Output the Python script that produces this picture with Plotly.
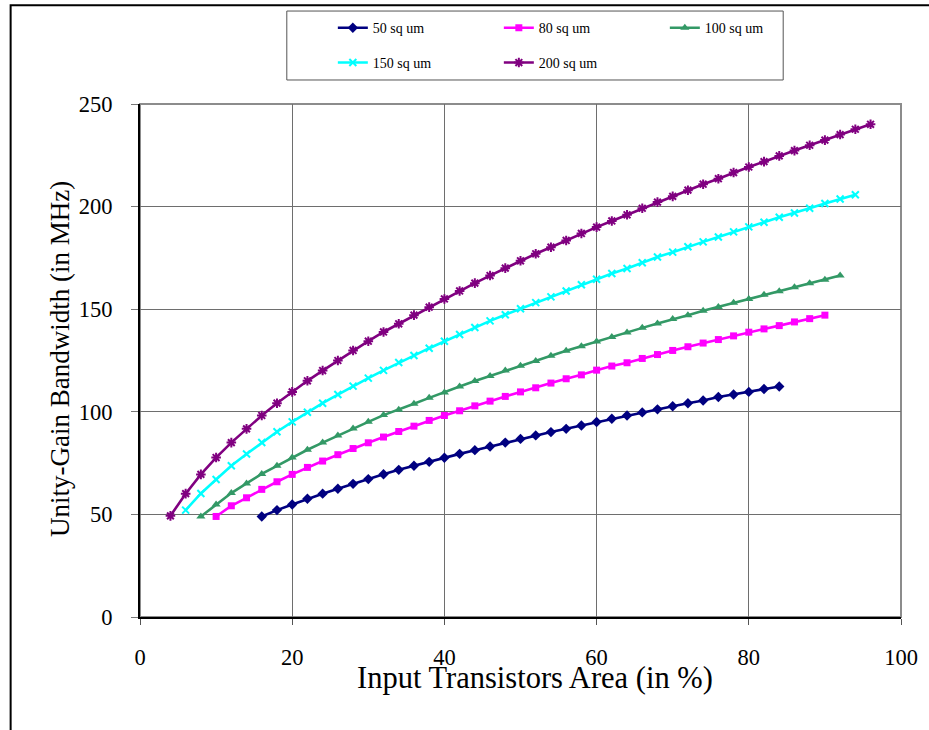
import plotly.graph_objects as go

# Input transistor area (%) at each computed point, per capacitor size
x_50 = [16, 18, 20, 22, 24, 26, 28, 30, 32, 34, 36, 38, 40, 42, 44, 46, 48, 50,
        52, 54, 56, 58, 60, 62, 64, 66, 68, 70, 72, 74, 76, 78, 80, 82, 84]
x_80 = [10, 12, 14, 16, 18, 20, 22, 24, 26, 28, 30, 32, 34, 36, 38, 40, 42, 44, 46,
        48, 50, 52, 54, 56, 58, 60, 62, 64, 66, 68, 70, 72, 74, 76, 78, 80, 82, 84,
        86, 88, 90]
x_100 = [8, 10, 12, 14, 16, 18, 20, 22, 24, 26, 28, 30, 32, 34, 36, 38, 40, 42, 44,
         46, 48, 50, 52, 54, 56, 58, 60, 62, 64, 66, 68, 70, 72, 74, 76, 78, 80, 82,
         84, 86, 88, 90, 92]
x_150 = [6, 8, 10, 12, 14, 16, 18, 20, 22, 24, 26, 28, 30, 32, 34, 36, 38, 40, 42,
         44, 46, 48, 50, 52, 54, 56, 58, 60, 62, 64, 66, 68, 70, 72, 74, 76, 78, 80,
         82, 84, 86, 88, 90, 92, 94]
x_200 = [4, 6, 8, 10, 12, 14, 16, 18, 20, 22, 24, 26, 28, 30, 32, 34, 36, 38, 40,
         42, 44, 46, 48, 50, 52, 54, 56, 58, 60, 62, 64, 66, 68, 70, 72, 74, 76, 78,
         80, 82, 84, 86, 88, 90, 92, 94, 96]

# Unity-gain bandwidth (MHz)
ugb_50 = [49.0, 52.1, 54.8, 57.6, 60.1, 62.5, 64.9, 67.2, 69.6, 71.7, 73.7, 75.6,
          77.6, 79.5, 81.3, 83.1, 85.0, 86.8, 88.5, 90.1, 91.7, 93.3, 95.0, 96.6,
          98.2, 99.7, 101.2, 102.7, 104.2, 105.5, 107.2, 108.4, 109.7, 111.1, 112.3]
ugb_80 = [49.0, 54.2, 58.1, 62.2, 65.9, 69.5, 72.9, 76.0, 79.1, 82.1, 84.9, 87.7,
          90.4, 93.0, 95.8, 98.2, 100.5, 102.9, 105.2, 107.5, 109.7, 111.7, 114.0,
          116.1, 118.0, 120.3, 122.3, 123.9, 126.0, 127.9, 129.9, 131.7, 133.5,
          135.2, 137.0, 138.8, 140.4, 142.0, 143.8, 145.4, 147.1]
ugb_100 = [49.0, 54.8, 60.4, 65.1, 69.7, 73.7, 77.7, 81.5, 85.0, 88.5, 91.9, 95.1,
           98.4, 101.0, 103.9, 106.8, 109.4, 112.3, 115.0, 117.5, 120.1, 122.4,
           124.8, 127.3, 129.7, 132.0, 134.2, 136.5, 138.6, 140.9, 143.0, 145.2,
           147.1, 149.2, 151.1, 153.1, 155.0, 157.0, 158.8, 160.7, 162.7, 164.4, 166.4]
ugb_150 = [52.1, 60.2, 67.0, 73.7, 79.4, 85.0, 90.3, 95.1, 99.8, 104.2, 108.4, 112.5,
           116.4, 120.2, 124.0, 127.4, 131.0, 134.4, 137.7, 141.1, 144.3, 147.3,
           150.2, 153.2, 156.0, 158.9, 161.9, 164.6, 167.4, 169.8, 172.6, 175.4,
           177.8, 180.4, 182.8, 185.2, 187.7, 190.1, 192.4, 194.8, 196.9, 199.2,
           201.5, 203.7, 205.8]
ugb_200 = [49.3, 60.1, 69.5, 77.7, 85.0, 91.7, 98.2, 104.2, 109.7, 115.1, 120.1, 125.0,
           129.9, 134.4, 138.9, 142.9, 147.1, 151.0, 155.0, 158.9, 162.7, 166.4, 170.0,
           173.6, 177.0, 180.2, 183.5, 186.9, 190.0, 193.0, 196.0, 199.2, 202.2, 205.0,
           208.0, 210.9, 213.6, 216.6, 219.3, 221.9, 224.7, 227.3, 229.9, 232.4, 235.1,
           237.7, 240.1]

series_names = ["50 sq um", "80 sq um", "100 sq um", "150 sq um", "200 sq um"]
x_ticks = [0, 20, 40, 60, 80, 100]
y_ticks = [0, 50, 100, 150, 200, 250]

SERIF = "Liberation Serif, Times New Roman, serif"

series = [
    (x_50, ugb_50, series_names[0], "#000080", "diamond", 8, "legend"),
    (x_80, ugb_80, series_names[1], "#FF00FF", "square", 7, "legend"),
    (x_100, ugb_100, series_names[2], "#339966", "triangle-up", 8, "legend"),
    (x_150, ugb_150, series_names[3], "#00FFFF", "x-thin", 7, "legend2"),
    (x_200, ugb_200, series_names[4], "#800080", "asterisk", 8, "legend2"),
]

fig = go.Figure()
for xs, ys, name, color, symbol, msize, leg in series:
    line_w = 2 if symbol in ("x-thin", "asterisk") else 0
    fig.add_trace(go.Scatter(
        x=xs, y=ys, name=name, mode="lines+markers",
        line=dict(color=color, width=2.6),
        marker=dict(symbol=symbol, size=msize, color=color,
                    line=dict(color=color, width=line_w)),
        legend=leg, cliponaxis=False,
    ))

# plot-area frame (grey top/right), outer chart frame, and legend box
shapes = [
    dict(type="rect", xref="paper", yref="paper", x0=0, x1=1, y0=0, y1=1,
         line=dict(color="#8c8c8c", width=2), layer="below"),
    dict(type="rect", xref="paper", yref="paper", x0=-0.170, x1=1.06, y0=-0.25, y1=1.1926,
         line=dict(color="#000000", width=2), layer="below"),
    dict(type="rect", xref="paper", yref="paper", x0=0.1929, x1=0.8452, y0=1.0468, y1=1.1812,
         line=dict(color="#555555", width=1), layer="below"),
]

annotations = [
    dict(text="Input Transistors Area (in %)", xref="paper", yref="paper",
         x=0.519, y=-0.119, xanchor="center", yanchor="middle", showarrow=False,
         font=dict(family=SERIF, size=30.5, color="#000000")),
    dict(text="Unity-Gain Bandwidth (in MHz)", xref="paper", yref="paper",
         x=-0.105, y=0.503, xanchor="center", yanchor="middle", textangle=-90,
         showarrow=False, font=dict(family=SERIF, size=27, color="#000000")),
]

legend_common = dict(
    orientation="h", xanchor="left", yanchor="middle", bgcolor="rgba(0,0,0,0)",
    borderwidth=0, entrywidth=121, entrywidthmode="pixels",
    font=dict(family=SERIF, size=14, color="#000000"), traceorder="normal",
)

fig.update_layout(
    width=929, height=730, autosize=False,
    margin=dict(l=140, r=28, t=104, b=113),
    paper_bgcolor="#ffffff", plot_bgcolor="#ffffff",
    showlegend=True,
    legend=dict(x=0.2534, y=1.148, **legend_common),
    legend2=dict(x=0.2534, y=1.080, **legend_common),
    shapes=shapes, annotations=annotations,
    xaxis=dict(range=[0, 100], tickvals=x_ticks, showgrid=True, gridcolor="#6e6e6e",
               gridwidth=1, showline=True, linecolor="#000000", linewidth=2,
               ticks="outside", ticklen=6, tickcolor="#555555", zeroline=False,
               ticklabelstandoff=13,
               tickfont=dict(family=SERIF, size=22.5, color="#000000")),
    yaxis=dict(range=[0, 250], tickvals=y_ticks, showgrid=True, gridcolor="#6e6e6e",
               gridwidth=1, showline=True, linecolor="#000000", linewidth=2,
               ticks="outside", ticklen=7, tickcolor="#777777", zeroline=False,
               ticklabelstandoff=14,
               tickfont=dict(family=SERIF, size=22.5, color="#000000")),
)

fig.write_html("out.html")
